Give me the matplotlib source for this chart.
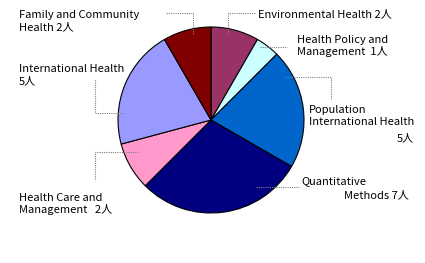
import matplotlib
matplotlib.use("Agg")
import matplotlib.pyplot as plt

plt.rcParams['font.family'] = ['Noto Sans CJK JP', 'DejaVu Sans']

# data (clockwise from 12 o'clock)
names = ['Environmental Health', 'Health Policy and Management', 'Population International Health',
         'Quantitative Methods', 'Health Care and Management', 'International Health',
         'Family and Community Health']
counts = [2, 1, 5, 7, 2, 5, 2]
colors = ['#993366', '#CCFFFF', '#0066CC', '#000080', '#FF99CC', '#9999FF', '#800000']

# label text, text position (px), leader polyline (px)
labels = [
    ('Environmental Health 2人', (258, 14), [(228, 34), (228, 13), (255, 13)]),
    ('Health Policy and\nManagement  1人', (297, 46), [(260, 47), (287, 47)]),
    ('Population\nInternational Health', (309, 116), [(285, 77), (331, 77), (331, 100)]),
    ('Quantitative', (301, 181), [(256, 187), (299, 187)]),
    ('Health Care and\nManagement   2人', (19, 204), [(138, 152), (95, 152), (95, 180)]),
    ('International Health\n5人', (19, 75), [(123, 113), (95, 113), (95, 79)]),
    ('Family and Community\nHealth 2人', (19, 21), [(193, 34), (193, 13), (165, 13)]),
]

fig = plt.figure(figsize=(4.25, 2.63), dpi=100)
ax = fig.add_axes([0, 0, 1, 1])

# y axis is inverted (pixel coords), so start at -90 and go counterclockwise in data
# which shows as clockwise from 12 o'clock
wedges, _ = ax.pie(counts, colors=colors, startangle=-90, counterclock=True,
                   center=(211, 120), radius=93, frame=True,
                   wedgeprops=dict(edgecolor='black', linewidth=0.8))
ax.set_xlim(0, 425)
ax.set_ylim(263, 0)
ax.set_aspect('auto')
ax.axis('off')

fs = 8
for text, (tx, ty), pts in labels:
    ax.text(tx, ty, text, ha='left', va='center', fontsize=fs, linespacing=1.2)
    xs = [p[0] for p in pts]
    ys = [p[1] for p in pts]
    ax.plot(xs, ys, color='#808080', linewidth=0.8, linestyle=(0, (1, 1)))

ax.text(414, 138, '5人', ha='right', va='center', fontsize=fs)
ax.text(409, 195, 'Methods 7人', ha='right', va='center', fontsize=fs)

fig.savefig('out.png', dpi=100)
